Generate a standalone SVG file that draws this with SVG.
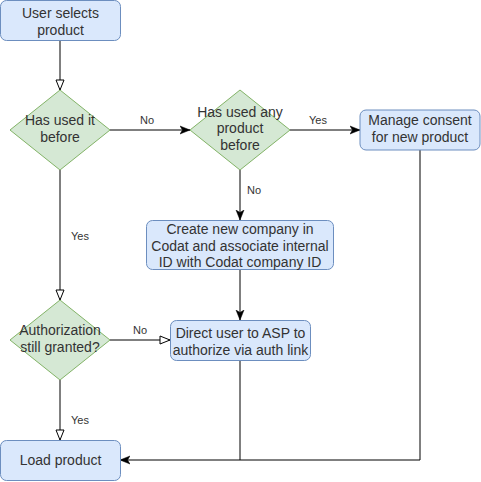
<svg xmlns="http://www.w3.org/2000/svg" width="481" height="482" viewBox="0 0 481 482">
<style>
.box{fill:#dae8fc;stroke:#6c8ebf;stroke-width:1}
.dia{fill:#d5e8d4;stroke:#82b366;stroke-width:1}
.t{font-family:"Liberation Sans",Arial,sans-serif;font-size:14px;fill:#333333;text-anchor:middle}
.l{font-family:"Liberation Sans",Arial,sans-serif;font-size:11px;fill:#333333;text-anchor:middle}
.e{fill:none;stroke:#000;stroke-width:1}
</style>
<defs>
<marker id="classic" markerUnits="userSpaceOnUse" markerWidth="10" markerHeight="10" viewBox="0 0 10 10" refX="10" refY="5" orient="auto">
<path d="M0,1 L10,5 L0,9 L2.5,5 Z" fill="#000" stroke="#000" stroke-width="0.5"/>
</marker>
<marker id="open" markerUnits="userSpaceOnUse" markerWidth="12" markerHeight="12" viewBox="-1 -1 12 12" refX="10" refY="5" orient="auto">
<path d="M0,1 L10,5 L0,9 Z" fill="#fff" stroke="#000" stroke-width="1"/>
</marker>
</defs>
<rect width="481" height="482" fill="#fff"/>
<g id="connectors">
<path class="e" d="M60,41 L60,90" marker-end="url(#open)"/>
<path class="e" d="M110,130 L190,130" marker-end="url(#classic)"/>
<path class="e" d="M290,130 L360,130" marker-end="url(#classic)"/>
<path class="e" d="M240,170 L240,220" marker-end="url(#classic)"/>
<path class="e" d="M240,270 L240,320" marker-end="url(#classic)"/>
<path class="e" d="M60,170 L60,300" marker-end="url(#open)"/>
<path class="e" d="M110,340 L170,340" marker-end="url(#open)"/>
<path class="e" d="M60,380 L60,440" marker-end="url(#open)"/>
<path class="e" d="M420,150 L420,460 L120,460" marker-end="url(#classic)"/>
<path class="e" d="M240,360 L240,460"/>
<text class="l" x="147" y="124">No</text>
<text class="l" x="318" y="124">Yes</text>
<text class="l" x="254" y="194">No</text>
<text class="l" x="80" y="240">Yes</text>
<text class="l" x="140" y="334">No</text>
<text class="l" x="80" y="424">Yes</text>
</g>
<g id="user-selects">
<rect class="box" x="0.5" y="0.5" width="120" height="40" rx="6"/>
<text class="t" x="60.5" y="18">User selects</text>
<text class="t" x="60.5" y="35">product</text>
</g>
<g id="has-used-it">
<path class="dia" d="M60,90 L110,130 L60,170 L10,130 Z"/>
<text class="t" x="60" y="125">Has used it</text>
<text class="t" x="60" y="142">before</text>
</g>
<g id="has-used-any">
<path class="dia" d="M240,90 L290,130 L240,170 L190,130 Z"/>
<text class="t" x="240" y="117">Has used any</text>
<text class="t" x="240" y="133">product</text>
<text class="t" x="240" y="150">before</text>
</g>
<g id="manage-consent">
<rect class="box" x="360" y="110" width="120" height="40" rx="6"/>
<text class="t" x="420" y="125">Manage consent</text>
<text class="t" x="420" y="142">for new product</text>
</g>
<g id="create-company">
<rect class="box" x="146.5" y="220.5" width="187" height="49" rx="6"/>
<text class="t" x="240" y="234">Create new company in</text>
<text class="t" x="240" y="250.5">Codat and associate internal</text>
<text class="t" x="240" y="267">ID with Codat company ID</text>
</g>
<g id="direct-user">
<rect class="box" x="170.5" y="320.5" width="140" height="40" rx="6"/>
<text class="t" x="240.5" y="337.5">Direct user to ASP to</text>
<text class="t" x="240.5" y="354.5">authorize via auth link</text>
</g>
<g id="auth-granted">
<path class="dia" d="M60,300 L110,340 L60,380 L10,340 Z"/>
<text class="t" x="60" y="335">Authorization</text>
<text class="t" x="60" y="352">still granted?</text>
</g>
<g id="load-product">
<rect class="box" x="0.5" y="440.5" width="120" height="40" rx="6"/>
<text class="t" x="60.5" y="465">Load product</text>
</g>
</svg>
